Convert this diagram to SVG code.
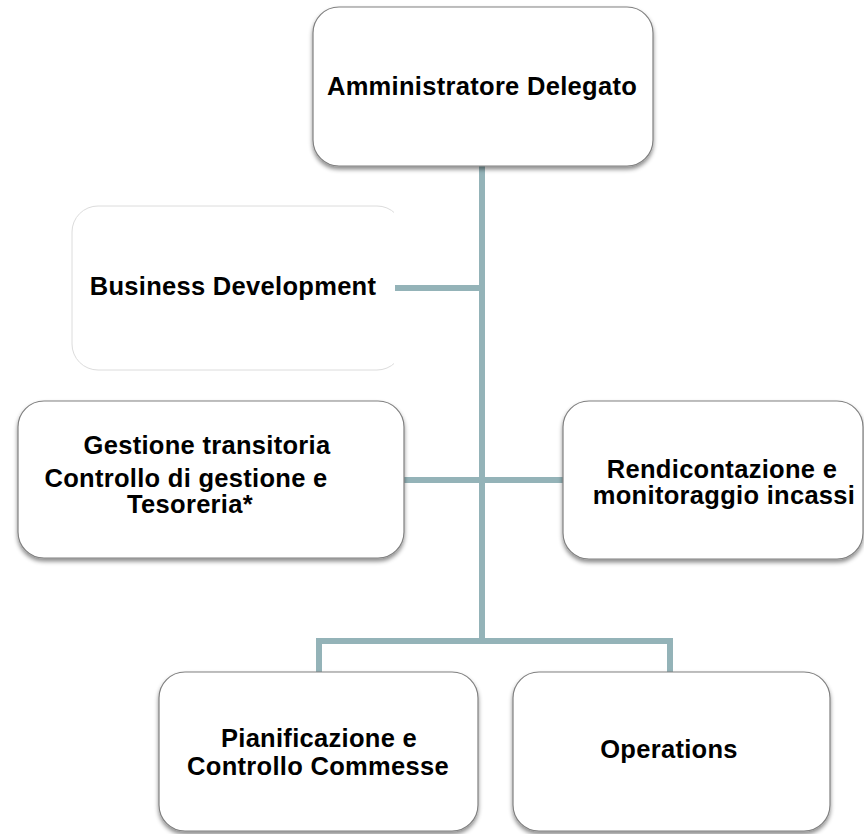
<svg xmlns="http://www.w3.org/2000/svg" width="864" height="834" viewBox="0 0 864 834">
<style>
.box{fill:#fff;stroke:#808080;stroke-width:1.2;filter:url(#sh)}
.ghost{fill:#fff;stroke:#dcdcdc;stroke-width:1}
.lbl{font-family:"Liberation Sans",Arial,sans-serif;font-weight:bold;font-size:25.5px;letter-spacing:0.3px;fill:#000;text-anchor:middle}
.con{fill:none;stroke:#94b3b8;stroke-width:6}
</style>
<defs>
<filter id="sh" x="-10%" y="-10%" width="120%" height="130%">
<feDropShadow dx="0" dy="3" stdDeviation="2.2" flood-color="#000" flood-opacity="0.45"/>
</filter>
<clipPath id="bdclip"><rect x="0" y="0" width="394" height="834"/></clipPath>
</defs>
<rect width="864" height="834" fill="#fff"/>
<g id="connectors">
<path class="con" d="M482 166 V644"/>
<path class="con" d="M395 288 H482"/>
<path class="con" d="M404 480 H563"/>
<path class="con" d="M319 672 V641 H670 V672"/>
</g>
<g id="n-ad">
<rect class="box" x="313" y="7" width="340" height="159" rx="26"/>
<text class="lbl" x="482" y="95">Amministratore Delegato</text>
</g>
<g id="n-bd">
<rect class="ghost" x="72" y="206" width="331" height="164" rx="26" clip-path="url(#bdclip)"/>
<text class="lbl" x="233" y="295">Business Development</text>
</g>
<g id="n-gest">
<rect class="box" x="18" y="401" width="386" height="157" rx="26"/>
<text class="lbl" x="207" y="454">Gestione transitoria</text>
<text class="lbl" x="186" y="487">Controllo di gestione e</text>
<text class="lbl" x="190" y="513">Tesoreria*</text>
</g>
<g id="n-rend">
<rect class="box" x="563" y="401" width="300" height="158" rx="26"/>
<text class="lbl" x="722" y="478">Rendicontazione e</text>
<text class="lbl" x="724" y="504">monitoraggio incassi</text>
</g>
<g id="n-pian">
<rect class="box" x="159" y="672" width="319" height="159" rx="26"/>
<text class="lbl" x="319" y="747">Pianificazione e</text>
<text class="lbl" x="318" y="775">Controllo Commesse</text>
</g>
<g id="n-ops">
<rect class="box" x="513" y="672" width="317" height="159" rx="26"/>
<text class="lbl" x="669" y="758">Operations</text>
</g>
</svg>
